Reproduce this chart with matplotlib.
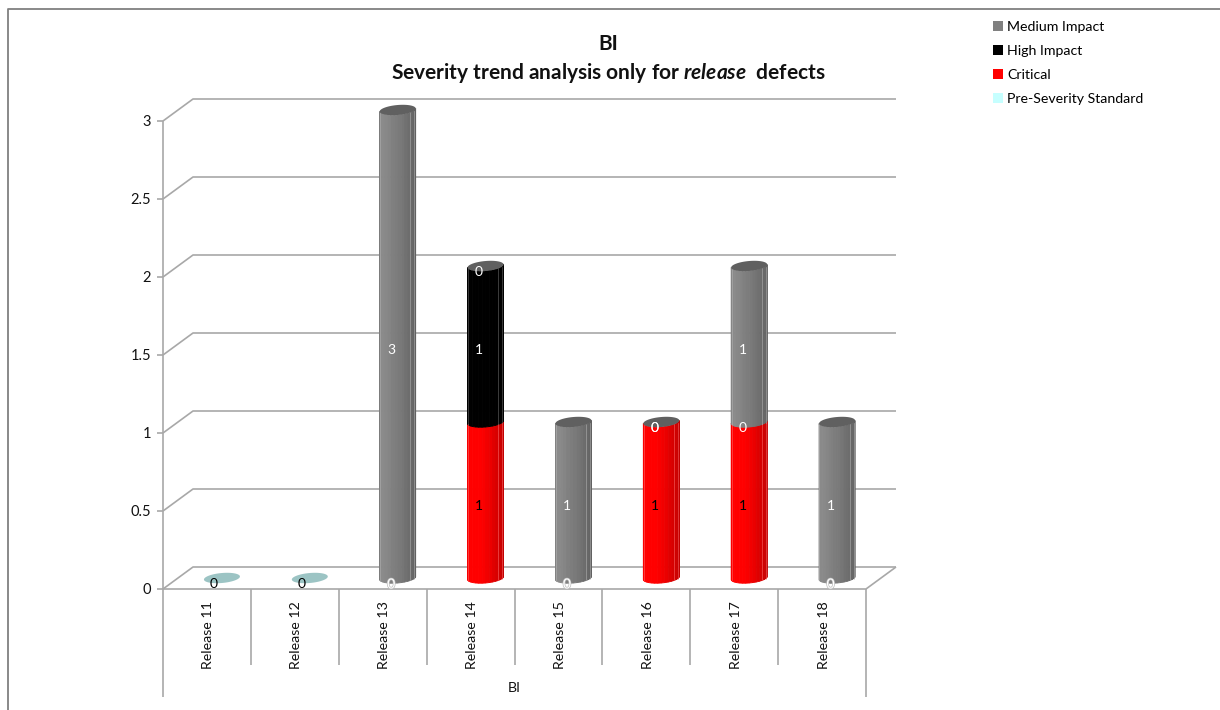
import matplotlib
matplotlib.use("Agg")
import matplotlib.pyplot as plt
import matplotlib.patheffects as pe
from matplotlib.lines import Line2D
from matplotlib.patches import Patch
import numpy as np

plt.rcParams['font.family'] = ['Lato', 'DejaVu Sans']
plt.rcParams['mathtext.fontset'] = 'custom'
plt.rcParams['mathtext.rm'] = 'Lato:bold'
plt.rcParams['mathtext.bfit'] = 'Lato:italic:bold'

releases = ['Release 11', 'Release 12', 'Release 13', 'Release 14',
            'Release 15', 'Release 16', 'Release 17', 'Release 18']
pre_severity = [0, 0, 0, 0, 0, 0, 0, 0]
critical = [0, 0, 0, 1, 0, 1, 1, 0]
high_impact = [0, 0, 0, 1, 0, 0, 0, 0]
medium_impact = [0, 0, 3, 0, 1, 0, 1, 1]
y_ticks = [0, 0.5, 1, 1.5, 2, 2.5, 3]
y_tick_labels = ['0', '0.5', '1', '1.5', '2', '2.5', '3']

W, H = 1220, 710
AX_L, AX_R, AX_T, AX_B = 163, 866, 121, 589
GRID = '#a8a8a8'

fig = plt.figure(figsize=(W / 100, H / 100), dpi=100, facecolor='white')
ax = fig.add_axes([AX_L / W, 1 - AX_B / H, (AX_R - AX_L) / W, (AX_B - AX_T) / H])
ax.set_xlim(0, 8)
ax.set_ylim(0, 3)
ax.axis('off')

# pixel sizes expressed in axis units
ux = (AX_R - AX_L) / 8
uy = (AX_B - AX_T) / 3
depth_x, depth_y = 30 / ux, 22 / uy


def line(xs, ys, color=GRID, lw=1.2):
    ax.plot(xs, ys, color=color, lw=lw, clip_on=False, solid_capstyle='butt', zorder=1)


# back wall, side wedge and tick marks
for v in y_ticks:
    line([0, depth_x, 8 + depth_x], [v, v + depth_y, v + depth_y])
    line([-6 / ux, 0], [v, v])
line([0, 0], [0, 3])
line([0, 8, 8 + depth_x], [0, 0, depth_y])

# category dividers below the floor
label_drop = 76 / uy
for i in range(1, 8):
    line([i, i], [0, -label_drop])
line([0, 0], [0, -108 / uy])
line([8, 8], [0, -108 / uy])

for v, t in zip(y_ticks, y_tick_labels):
    ax.text(-12 / ux, v - 1 / uy, t, ha='right', va='center', fontsize=10.5, color='#111111', clip_on=False)
for i, r in enumerate(releases):
    ax.text(i + 0.5 + 1.5 / ux, -46 / uy, r, rotation=90, ha='center', va='center', fontsize=10.2,
            color='#111111', clip_on=False)
ax.text(4, -99 / uy, 'BI', ha='center', va='center', fontsize=10.2, color='#111111', clip_on=False)

# cylinders are built from narrow vertical facets
radius_x = 18 / ux
radius_y = 5 / uy
tilt = 1.5 / uy
facets = np.linspace(np.pi, 2 * np.pi, 17)
shade = np.array([0.92, 1.06, 1.08, 1.08, 1.06, 1.04, 1.0, 0.98, 0.95, 0.92, 0.88, 0.85, 0.82, 0.8, 0.78, 0.76])
highlight = {1, 12, 14}


def rim(cx, level, t):
    return cx + radius_x * np.cos(t), level + depth_y / 2 + radius_y * np.sin(t) + tilt * np.cos(t)


def draw_segment(i, lo, hi, color):
    cx = i + 0.5 + depth_x / 2
    base = np.array(matplotlib.colors.to_rgb(color))
    for n in range(len(facets) - 1):
        t = np.linspace(facets[n], facets[n + 1], 4)
        x0, y0 = rim(cx, lo, t)
        x1, y1 = rim(cx, hi, t[::-1])
        c = np.clip(base * shade[n], 0, 1)
        ax.fill(np.r_[x0, x1], np.r_[y0, y1], facecolor=c, edgecolor=c, lw=0.6, clip_on=False, zorder=3)
    for n in highlight:
        xe, ye0 = rim(cx, lo, facets[n])
        _, ye1 = rim(cx, hi, facets[n])
        pale = base * 0.55 + 0.45
        ax.plot([xe, xe], [ye0, ye1], color=pale, lw=0.5, alpha=0.7, clip_on=False, zorder=3.5)


def draw_cap(i, level, color):
    cx = i + 0.5 + depth_x / 2
    t = np.linspace(0, 2 * np.pi, 60)
    x, y = rim(cx, level, t)
    ax.fill(x, y, color=color, lw=0, clip_on=False, zorder=4)


stack = np.zeros(len(releases))
series = [(pre_severity, '#c6ffff'), (critical, '#ff0000'), (high_impact, '#000000'), (medium_impact, '#808080')]
for values, color in series:
    for i, v in enumerate(values):
        if v > 0:
            draw_segment(i, stack[i], stack[i] + v, color)
    stack += np.array(values)

for i, total in enumerate(stack):
    draw_cap(i, total, '#606060' if total > 0 else '#9cc4c4')


# value labels sit at the middle of each segment, nudged for the depth
def value_label(i, level, v, color, halo=False):
    nudge = 4.5 / uy if level == 0 else 5.5 / uy
    shift = 7 / ux if color == 'black' and level == 0 else 8.5 / ux
    txt = ax.text(i + 0.5 + shift, level + nudge, str(v), ha='center', va='center', fontsize=10,
                  color=color, clip_on=False, zorder=6)
    if halo:
        txt.set_path_effects([pe.withStroke(linewidth=1.0, foreground='#bdbdbd')])


crit = np.array(critical)
high = np.array(high_impact)
med = np.array(medium_impact)
for i in range(len(releases)):
    if stack[i] == 0:
        value_label(i, 0, pre_severity[i], 'black')
        continue
    if crit[i] > 0:
        value_label(i, crit[i] / 2, crit[i], 'black')
    value_label(i, crit[i] + high[i] / 2, high[i], 'white', halo=crit[i] + high[i] == 0)
    value_label(i, crit[i] + high[i] + med[i] / 2, med[i], 'white')

# outer chart frame
frame = Line2D([8 / W, 8 / W, 1], [0, 1 - 9 / H, 1 - 9 / H], transform=fig.transFigure, color='#808080', lw=1.3)
fig.add_artist(frame)

fig.text(608 / W, 1 - 44 / H, 'BI', ha='center', va='center', fontsize=15, fontweight='bold', color='#111111')
fig.text(608 / W, 1 - 73 / H, r'Severity trend analysis only for $\mathbfit{release}$  defects',
         ha='center', va='center', fontsize=15, fontweight='bold', color='#111111')

handles = [Patch(facecolor=c, edgecolor='none') for c in ['#808080', '#000000', '#ff0000', '#c6ffff']]
fig.legend(handles, ['Medium Impact', 'High Impact', 'Critical', 'Pre-Severity Standard'],
           loc='upper left', bbox_to_anchor=(989 / W, 1 - 17 / H), frameon=False, fontsize=10.2,
           handlelength=0.72, handleheight=0.72, handletextpad=0.25, labelspacing=0.85, borderpad=0.3,
           borderaxespad=0)

fig.savefig('out.png', dpi=100)
